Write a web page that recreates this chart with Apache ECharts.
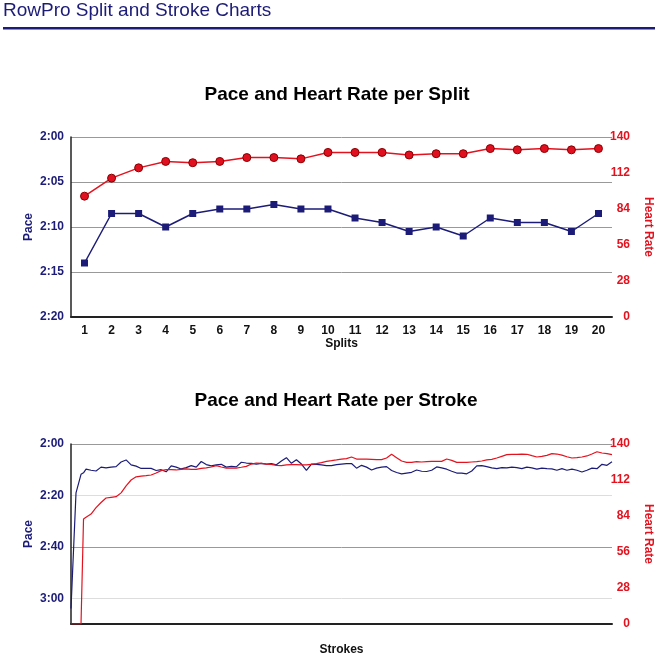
<!DOCTYPE html>
<html><head><meta charset="utf-8">
<script src="https://cdn.jsdelivr.net/npm/echarts@6/dist/echarts.min.js"></script>
<style>html,body{margin:0;padding:0;background:#fff}#c{width:668px;height:670px}</style>
</head><body><div id="c"></div>
<script>
// ---- Split chart data ----
const splits = ['1','2','3','4','5','6','7','8','9','10','11','12','13','14','15','16','17','18','19','20'];
// pace in seconds per 500m (2:00 = 120)
const paceSplit = [134, 128.5, 128.5, 130, 128.5, 128, 128, 127.5, 128, 128, 129, 129.5, 130.5, 130, 131, 129, 129.5, 129.5, 130.5, 128.5];
const hrSplit = [94, 108, 116, 121, 120, 121, 124, 124, 123, 128, 128, 128, 126, 127, 127, 131, 130, 131, 130, 131];

// ---- Stroke chart data ----
const strokes = [0,2,4,5,6,8,10,12,14,16,18,20,22,24,26,28,30,32,34,36,38,40,42,44,46,48,50,52,54,56,58,60,62,64,66,68,70,72,74,76,78,80,82,84,86,88,90,92,94,96,98,100,102,104,106,108,110,112,114,116,118,120,122,124,126,128,130,132,134,136,138,140,142,144,146,148,150,152,154,156,158,160,162,164,166,168,170,172,174,176,178,180,182,184,186,188,190,192,194,196,198,200,202,204,206,208,210,212,214,216];
const paceStroke = [184, 139, 131.8, 131.2, 129.8, 130.2, 130.5, 129, 129.3, 129, 128.8,
  127, 126.2, 128.1, 128.6, 129.5, 129.5, 129.5, 130.3, 130, 130.8,
  128.5, 129, 129.7, 129.2, 128.4, 129, 126.8, 128, 128.5, 128.1,
  127.9, 129, 128.7, 128.9, 127.1, 127.4, 127.5, 127.8, 127.5, 127.8,
  127.6, 128.1, 126.6, 125.3, 127.5, 126.1, 127.8, 130.3, 127.8, 127.9,
  128.1, 128.4, 128.4, 128, 127.8, 127.6, 127.6, 129.4, 128.3, 129,
  130.1, 129.4, 129, 128.8, 130.3, 131.1, 131.6, 131.3, 131, 130.1,
  130.6, 130.7, 130.2, 128.9, 129.3, 129.8, 130.6, 131.3, 131.3, 131.6,
  130.5, 128.5, 128.4, 128.8, 129.3, 129.6, 129.2, 129.3, 129, 129.2,
  129.6, 129, 129.3, 129.8, 129.4, 129.6, 129.7, 130.2, 129.6, 130.2,
  129.8, 130.2, 130.9, 130.2, 129.4, 129.6, 127.9, 128.3, 126.9];
const hrStroke = [0, 0, 0, 81.7, 83, 85.5, 90.5, 94.5, 98, 98.5, 99,
  102, 107.5, 112, 114.5, 115, 115.4, 115.9, 117.4, 119.3, 120,
  120, 119.8, 120.3, 120.6, 120.2, 120.2, 121, 121.5, 122.1, 123.2,
  122.1, 121.3, 121.3, 121.3, 121.9, 122.6, 124.4, 125.2, 125, 124.4,
  124.2, 123.4, 123.2, 123.7, 123.9, 123.9, 123.7, 123.7, 124.2, 124.7,
  125.5, 126.5, 127, 127.6, 128.3, 128.6, 129.9, 128.3, 128.3, 128.3,
  128.1, 127.8, 127.8, 129.1, 132, 129.4, 126.8, 125.7, 125.7, 126.3,
  126, 126.3, 126.5, 126.5, 126.5, 128.3, 127.3, 125.7, 125.7, 125.7,
  126, 126.3, 126.8, 127.6, 128.1, 129.1, 130.4, 131.7, 132, 132,
  132.2, 132, 130.9, 129.9, 130.4, 131.2, 132.5, 132.2, 131.4, 130.1,
  129.1, 129.4, 129.9, 130.7, 132.2, 134, 133, 132.5, 131.7];

const FONT = '"Liberation Sans", Arial, Helvetica, sans-serif';
const NAVY = '#1c1c78';
const RED = '#e4121e';

function fmtPace(v) {
  const m = Math.floor(v / 60);
  const s = Math.round(v - m * 60);
  return m + ':' + (s < 10 ? '0' : '') + s;
}
const lbl = (color, extra) => Object.assign({color: color, fontWeight: 'bold', fontSize: 12, fontFamily: FONT}, extra || {});

const chart = echarts.init(document.getElementById('c'), null, {renderer: 'canvas'});
chart.setOption({
  animation: false,
  backgroundColor: '#fff',
  graphic: [
    {type: 'text', x: 3, y: 11, style: {text: 'RowPro Split and Stroke Charts', font: '19px ' + FONT, fill: NAVY, verticalAlign: 'middle'}},
    {type: 'rect', shape: {x: 3, y: 27, width: 652, height: 2.5}, style: {fill: NAVY}},
    {type: 'text', x: 337, y: 95, style: {text: 'Pace and Heart Rate per Split', font: 'bold 19px ' + FONT, fill: '#000', align: 'center', verticalAlign: 'middle'}},
    {type: 'text', x: 336, y: 401, style: {text: 'Pace and Heart Rate per Stroke', font: 'bold 19px ' + FONT, fill: '#000', align: 'center', verticalAlign: 'middle'}}
  ],
  grid: [
    {left: 71, right: 56, top: 137, bottom: 353},
    {left: 71, right: 56, top: 444, bottom: 46}
  ],
  xAxis: [
    {type: 'category', gridIndex: 0, data: splits, boundaryGap: true,
     axisLine: {onZero: false, lineStyle: {color: '#222', width: 2}},
     axisTick: {show: false},
     axisLabel: lbl('#111', {margin: 8}),
     name: 'Splits', nameLocation: 'middle', nameGap: 20, nameTextStyle: lbl('#111')},
    {type: 'value', gridIndex: 1, min: 0, max: 216,
     axisLine: {onZero: false, lineStyle: {color: '#222', width: 2}},
     axisTick: {show: false}, axisLabel: {show: false}, splitLine: {show: false},
     name: 'Strokes', nameLocation: 'middle', nameGap: 20, nameTextStyle: lbl('#111')}
  ],
  yAxis: [
    {type: 'value', gridIndex: 0, inverse: true, min: 120, max: 140, interval: 5, position: 'left',
     axisLine: {show: true, lineStyle: {color: '#222', width: 1.5}},
     axisTick: {show: false},
     axisLabel: lbl(NAVY, {formatter: fmtPace, margin: 7}),
     splitLine: {show: true, lineStyle: {color: '#999', width: 1}},
     name: 'Pace', nameLocation: 'middle', nameGap: 36, nameRotate: 90, nameMoveOverlap: false, nameTextStyle: lbl(NAVY)},
    {type: 'value', gridIndex: 0, min: 0, max: 140, interval: 28, position: 'right',
     axisLine: {show: false}, axisTick: {show: false}, splitLine: {show: false},
     axisLabel: lbl(RED, {align: 'right', margin: 18}),
     name: 'Heart Rate', nameLocation: 'middle', nameGap: 30, nameRotate: -90, nameTextStyle: lbl(RED)},
    {type: 'value', gridIndex: 1, inverse: true, min: 120, max: 190, interval: 20, position: 'left',
     axisLine: {show: true, lineStyle: {color: '#222', width: 1.5}},
     axisTick: {show: false},
     axisLabel: lbl(NAVY, {formatter: fmtPace, margin: 7, showMaxLabel: false}),
     splitLine: {show: true, lineStyle: {color: ['#999', '#ddd'], width: 1}},
     name: 'Pace', nameLocation: 'middle', nameGap: 36, nameRotate: 90, nameMoveOverlap: false, nameTextStyle: lbl(NAVY)},
    {type: 'value', gridIndex: 1, min: 0, max: 140, interval: 28, position: 'right',
     axisLine: {show: false}, axisTick: {show: false}, splitLine: {show: false},
     axisLabel: lbl(RED, {align: 'right', margin: 18}),
     name: 'Heart Rate', nameLocation: 'middle', nameGap: 30, nameRotate: -90, nameTextStyle: lbl(RED)}
  ],
  series: [
    {type: 'line', xAxisIndex: 0, yAxisIndex: 0, data: paceSplit, symbol: 'rect', symbolSize: 7,
     itemStyle: {color: NAVY}, lineStyle: {color: NAVY, width: 1.5}},
    {type: 'line', xAxisIndex: 0, yAxisIndex: 1, data: hrSplit, symbol: 'circle', symbolSize: 8,
     itemStyle: {color: '#e01020', borderColor: '#8a0000', borderWidth: 1}, lineStyle: {color: RED, width: 1.5}},
    {type: 'line', xAxisIndex: 1, yAxisIndex: 2, data: strokes.map((s, i) => [s, paceStroke[i]]), showSymbol: false,
     lineStyle: {color: NAVY, width: 1.2}},
    {type: 'line', xAxisIndex: 1, yAxisIndex: 3, data: strokes.map((s, i) => [s, hrStroke[i]]), showSymbol: false,
     lineStyle: {color: RED, width: 1.2}}
  ]
});
</script>
</body></html>
